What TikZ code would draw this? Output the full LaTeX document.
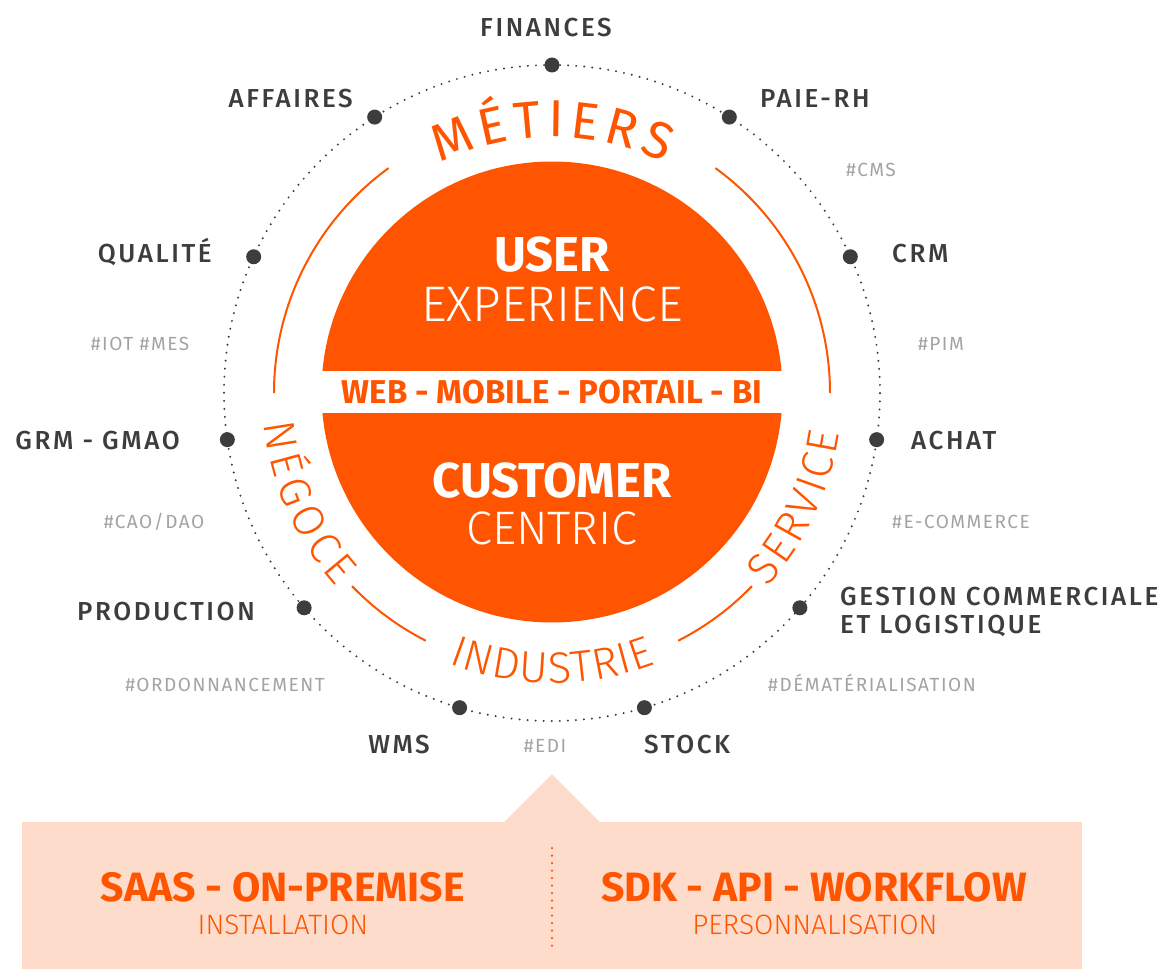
\documentclass[tikz,border=0pt]{standalone}
\usepackage{fontspec}
\setmainfont{Fira Sans}
\newfontfamily\lightfont{Fira Sans Light}
\newfontfamily\medfont{Fira Sans Medium}[LetterSpace=10]
\newfontfamily\tagfont{Fira Sans}[LetterSpace=8]
\usetikzlibrary{decorations.text}
\definecolor{ringorange}{RGB}{255,85,0}
\definecolor{peach}{RGB}{253,220,204}
\definecolor{darktext}{RGB}{61,61,61}
\definecolor{tagtext}{RGB}{163,163,163}
\tikzset{
  itemlabel/.style={text=darktext, font=\medfont\fontsize{26}{30}\selectfont, inner sep=0pt},
  hashtag/.style={text=tagtext, font=\tagfont\fontsize{19}{20}\selectfont, inner sep=0pt, anchor=base},
  bigdot/.style={circle, fill=darktext, minimum size=15pt, inner sep=0pt},
  ringarc/.style={ringorange, line width=2pt},
  disctext/.style={anchor=base, text=white, inner sep=0pt},
}
\begin{document}
\begin{tikzpicture}[x=1pt,y=1pt]
\useasboundingbox (-552,-576) rectangle (623,393);
% socle
\fill[peach] (-530,-576) rectangle (530,-429);
\fill[peach] (-48,-429) -- (0,-381) -- (48,-429) -- cycle;
\coordinate (sepTop) at (0,-455);
\coordinate (sepBot) at (0,-559);
\draw[ringorange, line width=2.5pt, line cap=round, dash pattern=on 0pt off 7.5pt] (sepTop) -- (sepBot);
% anneau
\draw[darktext, line width=2.2pt, line cap=round, dash pattern=on 0pt off 8.05pt] (0,0) circle[radius=328];
\foreach \k in {0,...,10}
  \node[bigdot] (d\k) at ({90+\k*360/11}:328) {};
% disque
\fill[ringorange] (0,1) circle[radius=230.5];
\fill[white] (-240,-20) rectangle (240,22);
\node[disctext, font=\bfseries\fontsize{49}{50}\selectfont] (user) at (0,121) {USER};
\node[disctext, font=\lightfont\fontsize{50}{50}\selectfont] (experience) at (0,71) {EXPERIENCE};
\node[disctext, text=ringorange, font=\bfseries\fontsize{33}{33}\selectfont] (canaux) at (0,-10) {WEB - MOBILE - PORTAIL - BI};
\node[disctext, font=\bfseries\fontsize{49}{50}\selectfont] (customer) at (0,-104) {CUSTOMER};
\node[disctext, font=\lightfont\fontsize{47}{47}\selectfont] (centric) at (0,-151) {CENTRIC};
% arcs et secteurs
\draw[ringarc] (0:278) arc[start angle=0, end angle=54, radius=278];
\draw[ringarc] (126:278) arc[start angle=126, end angle=180, radius=278];
\draw[ringarc] (224:278) arc[start angle=224, end angle=243, radius=278];
\draw[ringarc] (297:278) arc[start angle=297, end angle=316, radius=278];
\path[decorate, decoration={text along path, text align=fit to path,
  text={|\fontsize{52}{52}\selectfont\color{ringorange}|MÉTIERS}}]
  (116:256) arc[start angle=116, end angle=64, radius=256];
\path[decorate, decoration={text along path, text align=fit to path,
  text={|\lightfont\fontsize{44}{44}\selectfont\color{ringorange}|NÉGOCE}}]
  (186:290) arc[start angle=186, end angle=222, radius=290];
\path[decorate, decoration={text along path, text align=fit to path,
  text={|\lightfont\fontsize{44}{44}\selectfont\color{ringorange}|INDUSTRIE}}]
  (249:290) arc[start angle=249, end angle=291, radius=290];
\path[decorate, decoration={text along path, text align=fit to path,
  text={|\lightfont\fontsize{44}{44}\selectfont\color{ringorange}|SERVICE}}]
  (318:290) arc[start angle=318, end angle=352, radius=290];
% metiers
\node[itemlabel, anchor=base] (finances) at (-6,356) {FINANCES};
\node[itemlabel, anchor=base east] (affaires) at (-199,285) {AFFAIRES};
\node[itemlabel, anchor=base west] (paierh) at (208,285) {PAIE-RH};
\node[itemlabel, anchor=base east] (qualite) at (-340,130) {QUALITÉ};
\node[itemlabel, anchor=base west] (crm) at (340,130) {CRM};
\node[itemlabel, anchor=base east] (grm) at (-372,-56) {GRM - GMAO};
\node[itemlabel, anchor=base west] (achat) at (359,-56) {ACHAT};
\node[itemlabel, anchor=base east] (production) at (-297,-227) {PRODUCTION};
\node[itemlabel, anchor=base west] (gestion) at (288,-212) {GESTION COMMERCIALE};
\node[itemlabel, anchor=base west] (logistique) at ([yshift=-28pt]gestion.base west) {ET LOGISTIQUE};
\node[itemlabel, anchor=base east] (wms) at (-122,-360) {WMS};
\node[itemlabel, anchor=base west] (stock) at (92,-360) {STOCK};
% hashtags
\node[hashtag] (cms) at (319,216) {\#CMS};
\node[hashtag] (iot) at (-412,42) {\#IOT \#MES};
\node[hashtag] (pim) at (389,42) {\#PIM};
\node[hashtag] (cao) at (-398,-135) {\#CAO/DAO};
\node[hashtag] (ecommerce) at (409,-135) {\#E-COMMERCE};
\node[hashtag] (ordo) at (-327,-298) {\#ORDONNANCEMENT};
\node[hashtag] (demat) at (320,-298) {\#DÉMATÉRIALISATION};
\node[hashtag] (edi) at (-7,-359) {\#EDI};
% offres
\node[disctext, text=ringorange, font=\bfseries\fontsize{41}{41}\selectfont] (saas) at (-269,-508) {SAAS - ON-PREMISE};
\node[disctext, text=ringorange, font=\lightfont\fontsize{28}{28}\selectfont] (installation) at (-269,-541) {INSTALLATION};
\node[disctext, text=ringorange, font=\bfseries\fontsize{41}{41}\selectfont] (sdk) at (262,-508) {SDK - API - WORKFLOW};
\node[disctext, text=ringorange, font=\lightfont\fontsize{28}{28}\selectfont] (perso) at (263,-541) {PERSONNALISATION};
\end{tikzpicture}
\end{document}
